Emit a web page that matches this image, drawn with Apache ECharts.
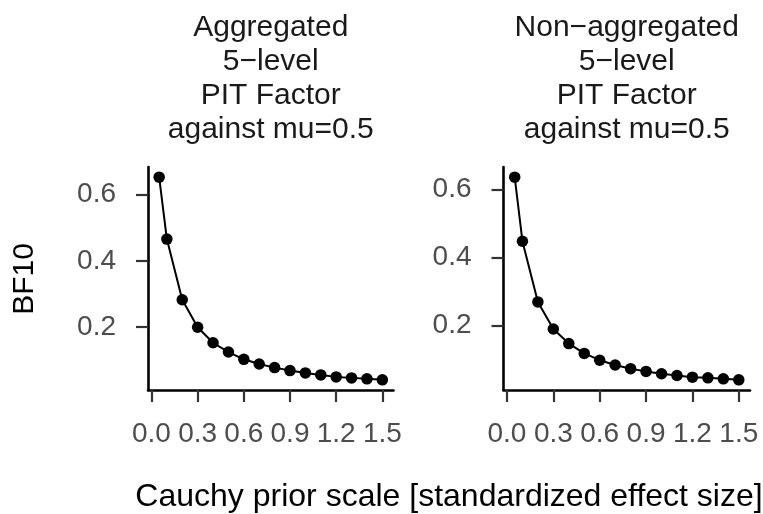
<!DOCTYPE html>
<html>
<head>
<meta charset="utf-8">
<script src="https://cdn.jsdelivr.net/npm/echarts@6/dist/echarts.min.js"></script>
<style>
html,body{margin:0;padding:0;background:#fff;}
#chart{width:763px;height:514px;}
</style>
</head>
<body>
<div id="chart"></div>
<script>
// ---- data ----
const priorScale = [0.05, 0.1, 0.2, 0.3, 0.4, 0.5, 0.6, 0.7, 0.8, 0.9, 1.0, 1.1, 1.2, 1.3, 1.4, 1.5];
const aggregatedBF10 = [0.653, 0.466, 0.283, 0.200, 0.153, 0.125, 0.103, 0.089, 0.078, 0.069, 0.062, 0.056, 0.050, 0.047, 0.044, 0.041];
const nonAggregatedBF10 = [0.637, 0.448, 0.269, 0.189, 0.146, 0.117, 0.097, 0.083, 0.072, 0.064, 0.057, 0.052, 0.047, 0.045, 0.042, 0.039];
const xTicks = [0.0, 0.3, 0.6, 0.9, 1.2, 1.5];
const yTicks = [0.2, 0.4, 0.6];
const panelTitles = ['Aggregated\n5\u2212level\nPIT Factor\nagainst mu=0.5', 'Non\u2212aggregated\n5\u2212level\nPIT Factor\nagainst mu=0.5'];
const xTitle = 'Cauchy prior scale [standardized effect size]';
const yTitle = 'BF10';

const FONT = 'Liberation Sans, Arial, sans-serif';
const panels = [aggregatedBF10, nonAggregatedBF10];
const grids = [
  {left: 148, top: 167, width: 245.5, height: 223},
  {left: 503.5, top: 167, width: 246.5, height: 223}
];

function expand(arr) {
  const lo = Math.min(...arr), hi = Math.max(...arr), d = (hi - lo) * 0.05;
  return [lo - d, hi + d];
}
const xr = expand(priorScale);

const chart = echarts.init(document.getElementById('chart'), null, {renderer: 'canvas'});
const option = {
  animation: false,
  backgroundColor: '#ffffff',
  title: panelTitles.map((t, i) => ({
    text: t,
    left: grids[i].left + grids[i].width / 2,
    top: 11,
    textAlign: 'center',
    padding: 0,
    textStyle: {fontFamily: FONT, fontSize: 30, fontWeight: 'normal', color: '#1a1a1a', lineHeight: 34}
  })),
  grid: grids.map(g => Object.assign({containLabel: false}, g)),
  xAxis: panels.map((p, i) => ({
    type: 'value', gridIndex: i, min: xr[0], max: xr[1],
    splitLine: {show: false},
    axisLine: {show: true, onZero: false, lineStyle: {color: '#000', width: 2.6}},
    axisTick: {show: true, length: 12, customValues: xTicks, lineStyle: {color: '#333', width: 2.2}},
    axisLabel: {show: true, margin: 30, customValues: xTicks, fontFamily: FONT, fontSize: 28, color: '#4d4d4d',
      formatter: v => v.toFixed(1)}
  })),
  yAxis: panels.map((p, i) => {
    const r = expand(p);
    return {
      type: 'value', gridIndex: i, min: r[0], max: r[1],
      splitLine: {show: false},
      axisLine: {show: true, onZero: false, lineStyle: {color: '#000', width: 2.6}},
      axisTick: {show: true, length: 12, customValues: yTicks, lineStyle: {color: '#333', width: 2.2}},
      axisLabel: {show: true, margin: 32, customValues: yTicks, fontFamily: FONT, fontSize: 28, color: '#4d4d4d',
        formatter: v => v.toFixed(1)}
    };
  }),
  series: panels.map((p, i) => ({
    type: 'line', xAxisIndex: i, yAxisIndex: i,
    data: priorScale.map((x, k) => [x, p[k]]),
    symbol: 'circle', symbolSize: 11.5, showSymbol: true,
    lineStyle: {color: '#000', width: 2},
    itemStyle: {color: '#000'}
  })),
  graphic: [
    {type: 'text', x: 449, y: 497, style: {text: xTitle, fontFamily: FONT, fontSize: 32, fill: '#000', align: 'center', verticalAlign: 'middle'}},
    {type: 'text', x: 25, y: 279, rotation: Math.PI / 2, style: {text: yTitle, fontFamily: FONT, fontSize: 30, fill: '#000', align: 'center', verticalAlign: 'middle'}}
  ]
};
chart.setOption(option);
</script>
</body>
</html>
